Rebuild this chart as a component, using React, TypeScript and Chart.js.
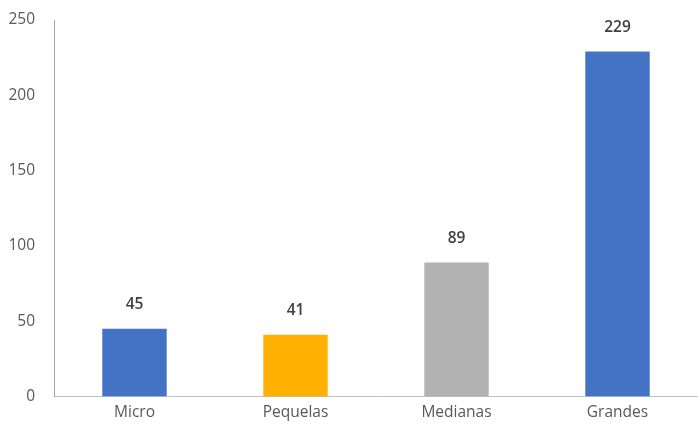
import React, { useEffect, useRef } from "react";
import { Chart, registerables } from "chart.js";

Chart.register(...registerables);

const categories = ["Micro", "Pequelas", "Medianas", "Grandes"];
const values = [45, 41, 89, 229];
const barColors = ["#4472C4", "#FFB000", "#B2B2B2", "#4472C4"];
const yTicks = [0, 50, 100, 150, 200, 250];

const FONT = "'Open Sans', 'Noto Sans', sans-serif";

const valueLabels = {
  id: "valueLabels",
  afterDatasetsDraw(chart: any) {
    const ctx = chart.ctx;
    const meta = chart.getDatasetMeta(0);
    ctx.save();
    ctx.font = `600 15.5px ${FONT}`;
    ctx.fillStyle = "#404040";
    ctx.textAlign = "center";
    ctx.textBaseline = "middle";
    meta.data.forEach((bar: any, i: number) => {
      ctx.fillText(String(values[i]), bar.x, bar.y - 24);
    });
    ctx.restore();
  },
};

export default function App() {
  const ref = useRef<HTMLCanvasElement>(null);
  useEffect(() => {
    if (!ref.current) return;
    const chart = new Chart(ref.current, {
      type: "bar",
      data: {
        labels: categories,
        datasets: [
          {
            data: values,
            backgroundColor: barColors,
            categoryPercentage: 1,
            barPercentage: 0.4,
          },
        ],
      },
      options: {
        animation: false,
        responsive: false,
        maintainAspectRatio: false,
        layout: { padding: { top: 20, left: 8, right: 0, bottom: 2 } },
        plugins: { legend: { display: false }, tooltip: { enabled: false } },
        scales: {
          x: {
            grid: { display: false, drawTicks: false },
            border: { display: true, color: "#BFBFBF", width: 1 },
            ticks: { color: "#595959", font: { family: FONT, size: 15.5 }, padding: 7 },
          },
          y: {
            min: 0,
            max: 250,
            afterBuildTicks: (axis: any) => {
              axis.ticks = yTicks.map((v) => ({ value: v }));
            },
            afterFit: (axis: any) => {
              axis.width = 46;
              axis.paddingTop = 0;
              axis.paddingBottom = 0;
            },
            grid: { display: false, drawTicks: false },
            border: { display: true, color: "#A6A6A6", width: 1 },
            ticks: { color: "#595959", font: { family: FONT, size: 15.5 }, padding: 19 },
          },
        },
      },
      plugins: [valueLabels],
    });
    return () => chart.destroy();
  }, []);
  return (
    <div style={{ position: "absolute", left: 0, top: 0, width: 698, height: 431, background: "#fff" }}>
      <canvas ref={ref} width={698} height={431} style={{ display: "block" }} />
    </div>
  );
}
